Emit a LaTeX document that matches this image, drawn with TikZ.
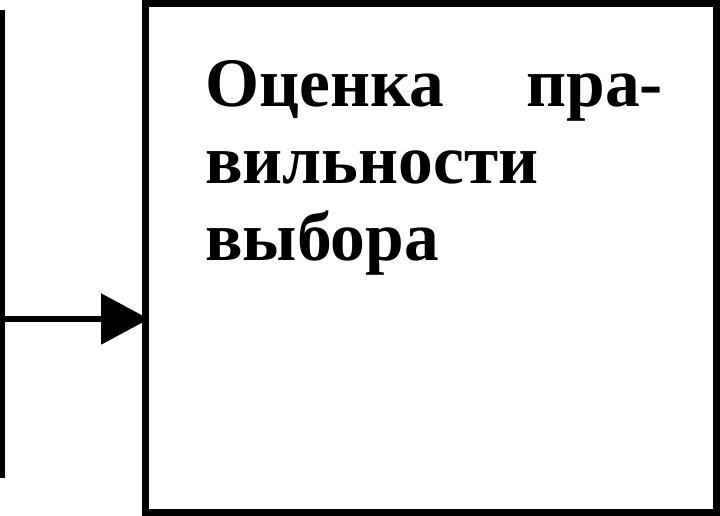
\documentclass[tikz,border=0pt]{standalone}
\usepackage{fontspec}
\setmainfont{Liberation Serif}
\usepackage{tikz}
\usetikzlibrary{positioning,calc,arrows.meta}

\begin{document}
\begin{tikzpicture}[
    x=1pt, y=-1pt,
    % Style definitions
    block/.style={rectangle, draw=black, line width=7pt, outer sep=0pt, minimum width=571.5pt, minimum height=509pt},
    caption/.style={anchor=north west, inner sep=0pt, text width=458pt, align=justify, font=\fontsize{69.5}{77}\selectfont\bfseries},
    wire/.style={draw=black, line width=5.5pt},
    arrow/.style={wire, -{Triangle[length=48pt, width=50pt]}, shorten >=-4pt}
]
\useasboundingbox (0,0) rectangle (720,516);

% Box
\node[block] (choice) at (430.75,258) {};
\node[caption] (choicetext) at ($(choice.north west)+(60,57)$) {
    Оценка\hfill пра-\\
    вильности\\
    выбора
};

% Bus line on the left
\coordinate (bustop) at (2.5,10);
\coordinate (busbottom) at (2.5,478);
\coordinate (tap) at (0,319);
\draw[wire, line cap=butt] (bustop) -- (busbottom);

% Connection
\draw[arrow] (tap) -- (tap -| choice.west);

\end{tikzpicture}
\end{document}
